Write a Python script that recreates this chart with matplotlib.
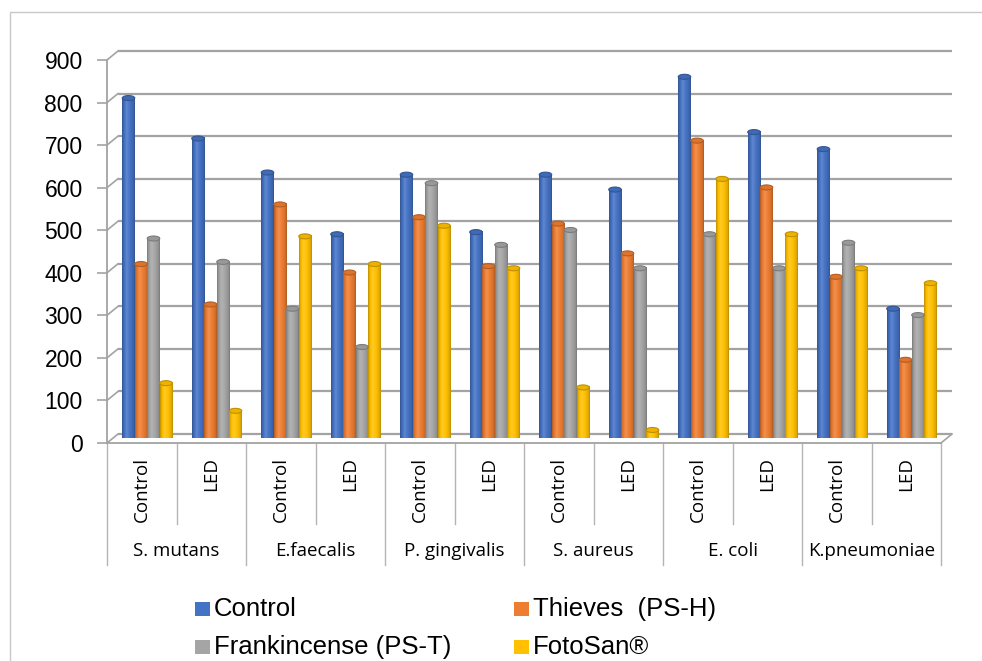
import numpy as np
import matplotlib
matplotlib.use("Agg")
import matplotlib.pyplot as plt
import matplotlib.transforms as mtransforms
from matplotlib.patches import Ellipse, Rectangle
from matplotlib.colors import to_rgb

plt.rcParams["font.family"] = ["Liberation Sans", "DejaVu Sans"]

bacteria = ["S. mutans", "E.faecalis", "P. gingivalis", "S. aureus", "E. coli", "K.pneumoniae"]
conditions = ["Control", "LED"]

series_names = ["Control", "Thieves  (PS-H)", "Frankincense (PS-T)", "FotoSan®"]
series_colors = ["#4472C4", "#ED7D31", "#A5A5A5", "#FFC000"]

# one value per (bacterium, condition) pair, in the order Control, LED
control_vals = [800, 705, 625, 480, 620, 485, 620, 585, 850, 720, 680, 305]
thieves_vals = [410, 315, 550, 390, 520, 405, 505, 435, 700, 590, 380, 185]
frankincense_vals = [470, 415, 305, 215, 600, 455, 490, 400, 480, 400, 460, 290]
fotosan_vals = [130, 65, 475, 410, 500, 400, 120, 20, 610, 480, 400, 365]

series_vals = [control_vals, thieves_vals, frankincense_vals, fotosan_vals]
yticks = list(range(0, 1000, 100))

W, H = 982, 661
fig = plt.figure(figsize=(W / 100, H / 100), dpi=100)


def fx(px):
    return px / W


def fy(py):
    return 1 - py / H


ax = fig.add_axes([fx(107), fy(443), fx(941) - fx(107), fy(60) - fy(443)])
ncat = len(control_vals)
ax.set_xlim(-0.5, ncat - 0.5)
ax.set_ylim(0, 900)

grid_c = "#a3a3a3"
# depth offsets: back wall and the middle of the floor where the bars stand
back = ax.transData + mtransforms.ScaledTranslation(0.11, 0.09, fig.dpi_scale_trans)
mid = ax.transData + mtransforms.ScaledTranslation(0.055, 0.045, fig.dpi_scale_trans)

for v in yticks:
    ax.plot([-0.5, ncat - 0.5], [v, v], color=grid_c, lw=1.6, transform=back,
            clip_on=False, zorder=1, solid_capstyle="butt")
    # left wall edge from the front axis to the back wall
    xa, ya = ax.transData.transform((-0.5, v))
    xb, yb = back.transform((-0.5, v))
    ax.plot([xa, xb], [ya, yb], color=grid_c, lw=1.2, transform=None,
            clip_on=False, zorder=1)

# right edge of the floor
xa, ya = ax.transData.transform((ncat - 0.5, 0))
xb, yb = back.transform((ncat - 0.5, 0))
ax.plot([xa, xb], [ya, yb], color=grid_c, lw=1.2, transform=None, clip_on=False, zorder=1)


def cylinder_cmap(color):
    base = np.array(to_rgb(color))
    pos = np.linspace(0, 1, 40)
    shade = np.interp(pos, [0, 0.12, 0.35, 0.7, 0.92, 1], [0.74, 0.93, 1.1, 0.97, 0.86, 0.72])
    rows = []
    for s in shade:
        if s > 1:
            rows.append(base + (1 - base) * (s - 1) * 1.6)
        else:
            rows.append(base * s)
    return np.clip(np.array(rows), 0, 1)[None, :, :]


bw = 0.18
px_per_unit = (443 - 60) / 900.0
cap_h = 5.0 / px_per_unit
for si, (vals, col) in enumerate(zip(series_vals, series_colors)):
    grad = cylinder_cmap(col)
    base = np.array(to_rgb(col))
    for ci, v in enumerate(vals):
        x0 = ci + (si - 1.5) * bw - bw / 2
        ax.imshow(grad, extent=(x0, x0 + bw, 0, v), aspect="auto", transform=mid,
                  interpolation="bilinear", zorder=3)
        ax.add_patch(Ellipse((x0 + bw / 2, v), bw, cap_h, transform=mid,
                             facecolor=np.clip(base * 0.93, 0, 1),
                             edgecolor=np.clip(base * 0.75, 0, 1), lw=0.8, zorder=4))

ax.set_xlim(-0.5, ncat - 0.5)
ax.set_ylim(0, 900)
ax.set_yticks(yticks)
ax.set_xticks([])
ax.tick_params(axis="y", length=7, width=1.2, color=grid_c, pad=10.5, labelsize=16.5)
for side in ["top", "right"]:
    ax.spines[side].set_visible(False)
for side in ["left", "bottom"]:
    ax.spines[side].set_color(grid_c)
    ax.spines[side].set_linewidth(1.3)
ax.patch.set_visible(False)

# category table under the floor
blend = mtransforms.blended_transform_factory(ax.transData, fig.transFigure)
for k in range(ncat + 1):
    bottom = 565 if k % 2 == 0 else 524
    ax.plot([k - 0.5, k - 0.5], [fy(443), fy(bottom)], color="#b4b4b4", lw=1.0,
            transform=blend, clip_on=False)

for ci in range(ncat):
    ax.text(ci, fy(457), conditions[ci % 2], rotation=90, ha="center", va="top",
            fontsize=13.5, family=["Open Sans", "DejaVu Sans"], transform=blend)
for gi, name in enumerate(bacteria):
    ax.text(2 * gi + 0.5, fy(551), name, ha="center", va="center",
            fontsize=13.5, family=["Open Sans", "DejaVu Sans"], transform=blend)

# legend, two columns
leg_x = [195, 514]
leg_y = [609, 647]
for si, (name, col) in enumerate(zip(series_names, series_colors)):
    lx = leg_x[si % 2]
    ly = leg_y[si // 2]
    fig.add_artist(Rectangle((fx(lx), fy(ly + 7)), fx(15), 14 / H, facecolor=col,
                             edgecolor="none", transform=fig.transFigure))
    fig.text(fx(lx + 19), fy(ly), name, ha="left", va="center", fontsize=18.5)

# chart border
fig.add_artist(Rectangle((fx(10), -0.02), 1.0, fy(12) + 0.02, fill=False,
                         edgecolor="#c8c8c8", lw=1.0, transform=fig.transFigure))

fig.savefig("out.png", dpi=100)
